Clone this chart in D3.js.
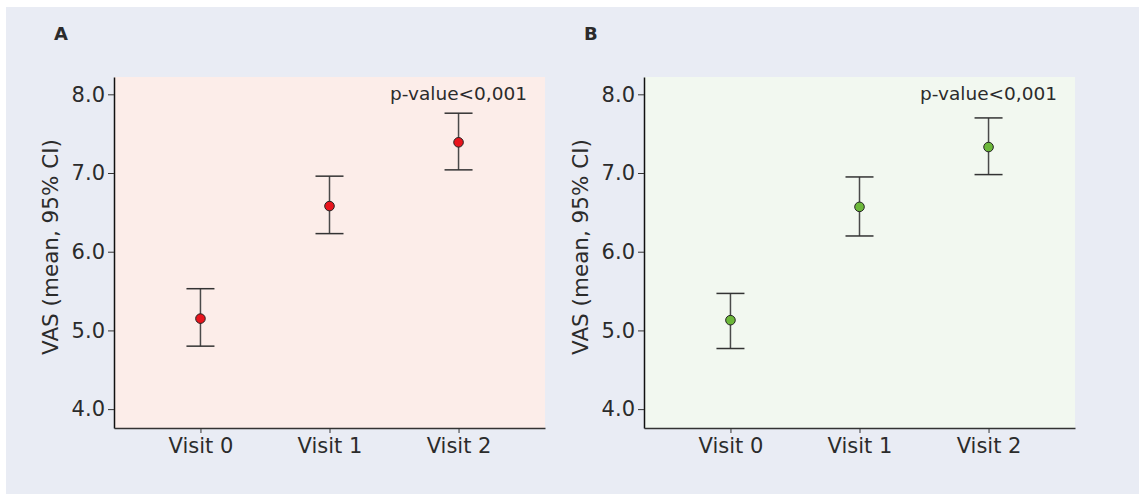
<!DOCTYPE html>
<html>
<head>
<meta charset="utf-8">
<script src="https://cdn.jsdelivr.net/npm/d3@7"></script>
<style>
  body { margin: 0; background: #fff; }
  text { font-family: "DejaVu Sans", Verdana, sans-serif; fill: #2b2b2b; }
</style>
</head>
<body>
<svg width="1139" height="494"></svg>
<script>
var visits = ["Visit 0", "Visit 1", "Visit 2"];
var yTicks = [4, 5, 6, 7, 8];

// panel A
var meanA = [5.15, 6.58, 7.39];
var lowA = [4.80, 6.23, 7.04];
var highA = [5.53, 6.96, 7.76];

// panel B
var meanB = [5.13, 6.57, 7.33];
var lowB = [4.77, 6.20, 6.98];
var highB = [5.47, 6.95, 7.70];

var pText = "p-value<0,001";

var svg = d3.select("svg");

svg.append("rect")
    .attr("x", 6)
    .attr("y", 7)
    .attr("width", 1133)
    .attr("height", 487)
    .attr("fill", "#e9ecf4");

var plotTop = 77, plotBottom = 428, plotW = 431;

var yScale = d3.scaleLinear()
    .domain([3.76, 8.22])
    .range([plotBottom, plotTop]);

function drawPanel(left, label, mean, low, high, bg, dot) {
    var xScale = d3.scalePoint()
        .domain(visits)
        .range([left, left + plotW])
        .padding(0.67);

    var g = svg.append("g");

    g.append("rect")
        .attr("x", left)
        .attr("y", plotTop)
        .attr("width", plotW)
        .attr("height", plotBottom - plotTop)
        .attr("fill", bg);

    var yAxis = d3.axisLeft(yScale)
        .tickValues(yTicks)
        .tickFormat(d3.format(".1f"))
        .tickSize(6)
        .tickSizeOuter(0);
    var xAxis = d3.axisBottom(xScale)
        .tickSize(5)
        .tickSizeOuter(0);

    var ya = g.append("g")
        .attr("transform", "translate(" + left + ",0)")
        .call(yAxis);
    ya.select(".domain").attr("stroke", "#111").attr("stroke-width", 1.5);
    ya.selectAll(".tick line").attr("stroke", "#333");
    ya.selectAll(".tick text")
        .attr("x", -9)
        .style("font-size", "21px")
        .style("font-family", "DejaVu Sans, Verdana, sans-serif")
        .attr("fill", "#2b2b2b");

    var xa = g.append("g")
        .attr("transform", "translate(0," + plotBottom + ")")
        .call(xAxis);
    xa.select(".domain").attr("stroke", "#333").attr("stroke-width", 1.5);
    xa.selectAll(".tick line").attr("stroke", "#333");
    xa.selectAll(".tick text")
        .attr("y", 10)
        .style("font-size", "21px")
        .style("font-family", "DejaVu Sans, Verdana, sans-serif")
        .attr("fill", "#2b2b2b");

    // error bars
    var bars = g.selectAll(".bar")
        .data(visits)
        .enter()
        .append("g");
    bars.append("line")
        .attr("x1", d => xScale(d))
        .attr("x2", d => xScale(d))
        .attr("y1", (d, i) => yScale(low[i]))
        .attr("y2", (d, i) => yScale(high[i]))
        .attr("stroke", "#4a4a4a")
        .attr("stroke-width", 1.5);
    bars.append("line")
        .attr("x1", d => xScale(d) - 14)
        .attr("x2", d => xScale(d) + 14)
        .attr("y1", (d, i) => yScale(high[i]))
        .attr("y2", (d, i) => yScale(high[i]))
        .attr("stroke", "#333")
        .attr("stroke-width", 1.5);
    bars.append("line")
        .attr("x1", d => xScale(d) - 14)
        .attr("x2", d => xScale(d) + 14)
        .attr("y1", (d, i) => yScale(low[i]))
        .attr("y2", (d, i) => yScale(low[i]))
        .attr("stroke", "#333")
        .attr("stroke-width", 1.5);
    bars.append("circle")
        .attr("cx", d => xScale(d))
        .attr("cy", (d, i) => yScale(mean[i]))
        .attr("r", 4.8)
        .attr("fill", dot)
        .attr("stroke", "#222")
        .attr("stroke-width", 1);

    g.append("text")
        .attr("x", xScale("Visit 2"))
        .attr("y", 100)
        .attr("text-anchor", "middle")
        .style("font-size", "18.5px")
        .text(pText);

    g.append("text")
        .attr("transform", "translate(" + (left - 56) + ",247) rotate(-90)")
        .attr("text-anchor", "middle")
        .style("font-size", "21.5px")
        .text("VAS (mean, 95% CI)");

    g.append("text")
        .attr("x", left - 60)
        .attr("y", 40)
        .style("font-size", "18px")
        .style("font-weight", "bold")
        .text(label);
}

drawPanel(114, "A", meanA, lowA, highA, "#fcede9", "#e8141c");
drawPanel(644, "B", meanB, lowB, highB, "#f2f8f0", "#6cb83a");
</script>
</body>
</html>
